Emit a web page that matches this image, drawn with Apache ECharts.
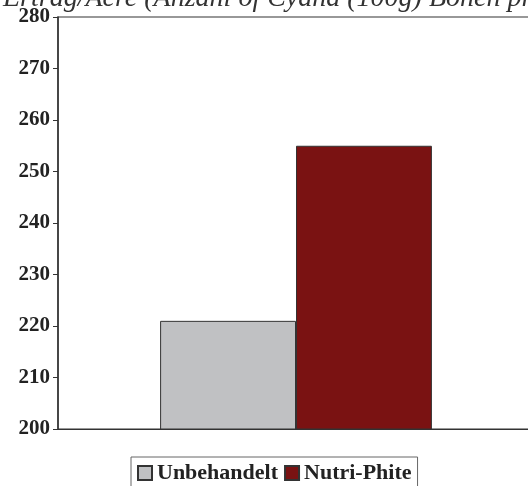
<!DOCTYPE html>
<html><head><meta charset="utf-8">
<script src="https://cdn.jsdelivr.net/npm/echarts@6/dist/echarts.min.js"></script>
<style>html,body{margin:0;padding:0;background:#fff}#c{width:528px;height:486px}</style>
</head><body><div id="c"></div>
<script>
const categories = [''];
const seriesNames = ['Unbehandelt', 'Nutri-Phite'];
const unbehandelt = [221];
const nutriPhite = [255];
const titleText = 'Ertrag/Acre (Anzahl of Cyana (100g) Bohen pro Acre)';

const chart = echarts.init(document.getElementById('c'), null, {renderer: 'canvas'});
const serif = 'Liberation Serif';
chart.setOption({
  animation: false,
  title: {
    text: titleText, left: -2, top: -20,
    textStyle: {fontFamily: serif, fontStyle: 'italic', fontWeight: 'normal', fontSize: 28, color: '#333'}
  },
  grid: {left: 58, width: 476, top: 17, bottom: 57, show: true, borderColor: '#333', borderWidth: 1.2,
         outerBoundsMode: 'none', containLabel: false},
  legend: {
    data: seriesNames, top: 457, left: 131,
    itemWidth: 14, itemHeight: 14, itemGap: 6,
    borderColor: '#666', borderWidth: 1, padding: [5, 6, 8, 6],
    textStyle: {fontFamily: serif, fontWeight: 'bold', fontSize: 22, color: '#222'},
    icon: 'rect'
  },
  xAxis: {
    type: 'category', data: categories,
    axisLine: {lineStyle: {color: '#333', width: 1.2}},
    axisTick: {show: false}, axisLabel: {show: false}
  },
  yAxis: {
    type: 'value', min: 200, max: 280, interval: 10,
    axisLine: {show: true, lineStyle: {color: '#333', width: 1.5}},
    axisTick: {show: true, length: 5, lineStyle: {color: '#333'}},
    splitLine: {show: false},
    axisLabel: {fontFamily: serif, fontWeight: 'bold', fontSize: 21, color: '#222', margin: 8}
  },
  series: [
    {name: seriesNames[0], type: 'bar', data: unbehandelt, barGap: '0%', barCategoryGap: '42.9%',
     itemStyle: {color: '#c0c1c3', borderColor: '#333', borderWidth: 1}},
    {name: seriesNames[1], type: 'bar', data: nutriPhite, barGap: '0%', barCategoryGap: '42.9%',
     itemStyle: {color: '#7a1212', borderColor: '#333', borderWidth: 1}}
  ]
});
</script></body></html>
